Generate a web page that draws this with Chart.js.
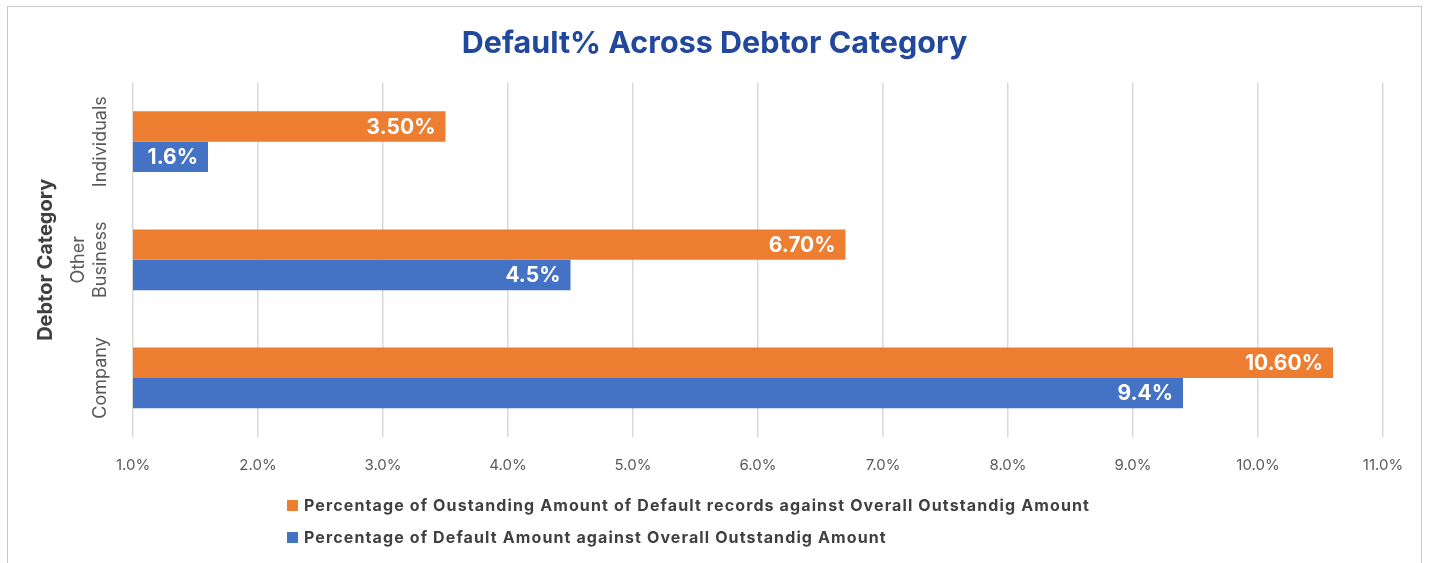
<!DOCTYPE html>
<html>
<head>
<meta charset="utf-8">
<script src="https://cdn.jsdelivr.net/npm/chart.js@4.4.1/dist/chart.umd.min.js"></script>
<style>
  body { margin: 0; background: #fff; overflow: hidden; }
  #frame { position: absolute; left: 7px; top: 6px; width: 1413px; height: 570px; border: 1px solid #c9c9c9; }
  #wrap { position: absolute; left: 0; top: 0; width: 1429px; height: 563px; }
  #legend { position: absolute; left: 287px; top: 489px; font-family: Inter, sans-serif; font-weight: 700; font-size: 16px; letter-spacing: 1.12px; color: #404040; }
  #legend .item { display: flex; align-items: center; height: 32px; }
  #legend .box { width: 11px; height: 11px; margin-right: 6px; }
</style>
</head>
<body>
<div id="frame"></div>
<div id="wrap"><canvas id="debtChart"></canvas></div>
<div id="legend"></div>
<script>
const categories = [['Individuals'], ['Other', 'Business'], ['Company']];
const outstandingPct = [3.5, 6.7, 10.6];
const defaultPct = [1.6, 4.5, 9.4];
const seriesNames = [
  'Percentage of Oustanding Amount of Default records against Overall Outstandig Amount',
  'Percentage of Default Amount against Overall Outstandig Amount'
];
const xMin = 1, xMax = 11, xStep = 1;

const FONT = 'Inter, sans-serif';

// value labels drawn inside the bar end
const barLabels = {
  id: 'barLabels',
  afterDatasetsDraw(chart) {
    const ctx = chart.ctx;
    ctx.save();
    ctx.font = 'bold 21px ' + FONT;
    ctx.fillStyle = '#ffffff';
    ctx.textAlign = 'right';
    ctx.textBaseline = 'middle';
    chart.data.datasets.forEach((ds, i) => {
      chart.getDatasetMeta(i).data.forEach((bar, j) => {
        ctx.fillText(ds.data[j].toFixed(ds.decimals) + '%', bar.x - 10, bar.y + 1);
      });
    });
    ctx.restore();
  }
};

const chart = new Chart(document.getElementById('debtChart'), {
  type: 'bar',
  data: {
    labels: categories,
    datasets: [
      { label: seriesNames[0], data: outstandingPct, backgroundColor: '#ed7d31', decimals: 2 },
      { label: seriesNames[1], data: defaultPct, backgroundColor: '#4472c4', decimals: 1 }
    ]
  },
  options: {
    indexAxis: 'y',
    responsive: true,
    maintainAspectRatio: false,
    animation: false,
    categoryPercentage: 0.515,
    barPercentage: 1,
    layout: { padding: { left: 46, right: 46, top: 0, bottom: 0 } },
    scales: {
      x: {
        min: xMin,
        max: xMax,
        grid: { color: '#d9d9d9', lineWidth: 1.5, drawTicks: false },
        border: { display: false },
        ticks: {
          stepSize: xStep,
          padding: 19,
          color: '#595959',
          font: { family: FONT, size: 15 },
          callback: v => v.toFixed(1) + '%'
        },
        afterFit: s => { s.height = 126; }
      },
      y: {
        grid: { display: false },
        border: { display: false },
        ticks: {
          minRotation: 90,
          maxRotation: 90,
          crossAlign: 'center',
          padding: -10,
          color: '#595959',
          font: { family: FONT, size: 18 },
          // single-line names sit on the second line, as in the original
          callback: function (v) {
            const l = this.getLabelForValue(v);
            return Array.isArray(l) && l.length === 1 ? ['', l[0]] : l;
          }
        },
        title: {
          display: true,
          text: 'Debtor Category',
          color: '#404040',
          padding: { top: -12, bottom: 4 },
          font: { family: FONT, size: 20, weight: 'bold' }
        },
        afterFit: s => { s.width = 87; }
      }
    },
    plugins: {
      legend: { display: false },
      tooltip: { enabled: false },
      title: {
        display: true,
        text: 'Default% Across Debtor Category',
        color: '#22489b',
        padding: { top: 26, bottom: 20 },
        font: { family: FONT, size: 30.5, weight: 'bold' }
      }
    }
  },
  plugins: [barLabels]
});

// legend rows, left aligned like the original
const legendEl = document.getElementById('legend');
chart.data.datasets.forEach(ds => {
  const row = document.createElement('div');
  row.className = 'item';
  const box = document.createElement('span');
  box.className = 'box';
  box.style.background = ds.backgroundColor;
  const txt = document.createElement('span');
  txt.textContent = ds.label;
  row.appendChild(box);
  row.appendChild(txt);
  legendEl.appendChild(row);
});
</script>
</body>
</html>
